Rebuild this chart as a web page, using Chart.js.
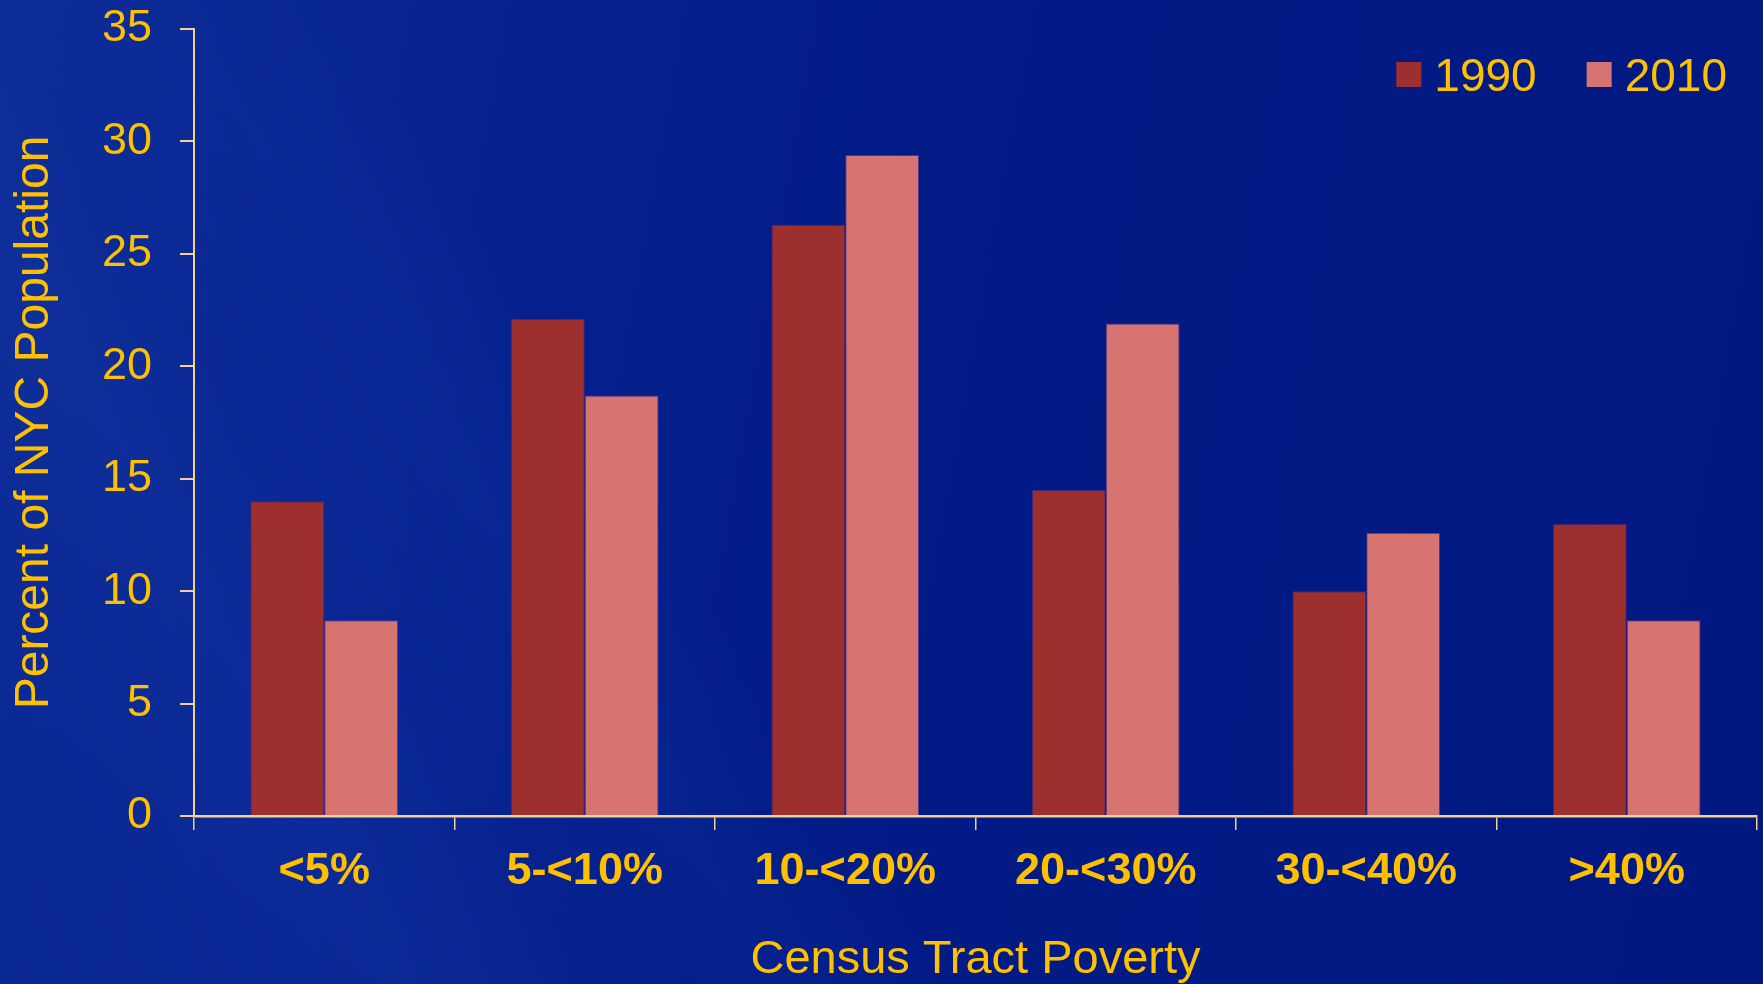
<!DOCTYPE html>
<html>
<head>
<meta charset="utf-8">
<title>Census Tract Poverty</title>
<script src="https://cdn.jsdelivr.net/npm/chart.js@4"></script>
<style>
  html, body { margin: 0; padding: 0; }
  body {
    width: 1763px;
    height: 984px;
    overflow: hidden;
    background:
      linear-gradient(62deg, rgba(40,80,190,0) 0%, rgba(40,80,190,0.18) 18%, rgba(40,80,190,0) 30%),
      linear-gradient(58deg, rgba(30,70,180,0) 25%, rgba(30,70,180,0.14) 33%, rgba(30,70,180,0) 40%),
      linear-gradient(100deg, #0a2892 0%, #072390 22%, #021b86 48%, #011881 100%);
  }
  #wrap { width: 1763px; height: 984px; }
</style>
</head>
<body>
<div id="wrap"><canvas id="povertyChart" width="1763" height="984"></canvas></div>
<script>
// Datos del gráfico
const categories = ['<5%', '5-<10%', '10-<20%', '20-<30%', '30-<40%', '>40%'];
const values1990 = [14.0, 22.1, 26.3, 14.5, 10.0, 13.0];
const values2010 = [8.7, 18.7, 29.4, 21.9, 12.6, 8.7];
const yTicks = [0, 5, 10, 15, 20, 25, 30, 35];

const gold = '#FFC000';
const axisColor = '#F6CF93';

// Leyenda dibujada dentro del área del gráfico (arriba a la derecha)
const insideLegend = {
    id: 'insideLegend',
    afterDraw(chart) {
        const { ctx, chartArea } = chart;
        const box = 25, gap = 13, spacing = 50;
        ctx.save();
        ctx.font = '46px "Liberation Sans", Arial, sans-serif';
        ctx.textBaseline = 'alphabetic';
        ctx.textAlign = 'left';
        const items = chart.data.datasets.map(ds => ({
            label: ds.label, color: ds.backgroundColor, w: ctx.measureText(ds.label).width
        }));
        let total = 0;
        items.forEach((it, i) => { total += box + gap + it.w + (i ? spacing : 0); });
        let x = chartArea.right - 30 - total;
        const baseline = chartArea.top + 62;
        items.forEach(it => {
            ctx.fillStyle = it.color;
            ctx.fillRect(x, baseline - 29, box, box);
            x += box + gap;
            ctx.fillStyle = gold;
            ctx.fillText(it.label, x, baseline);
            x += it.w + spacing;
        });
        ctx.restore();
    }
};

const ctx = document.getElementById('povertyChart').getContext('2d');
const povertyChart = new Chart(ctx, {
    type: 'bar',
    data: {
        labels: categories,
        datasets: [
            {
                label: '1990',
                data: values1990,
                backgroundColor: '#9E2F2F',
                borderColor: 'rgba(110,50,110,0.6)',
                borderWidth: 1
            },
            {
                label: '2010',
                data: values2010,
                backgroundColor: '#D77371',
                borderColor: 'rgba(130,70,130,0.6)',
                borderWidth: 1
            }
        ]
    },
    options: {
        responsive: false,
        animation: false,
        layout: { padding: { left: 0, top: 29, right: 6, bottom: 0 } },
        datasets: {
            bar: { categoryPercentage: 0.567, barPercentage: 1.0 }
        },
        scales: {
            x: {
                grid: {
                    offset: true,
                    drawOnChartArea: false,
                    drawTicks: true,
                    tickLength: 14,
                    color: axisColor,
                    lineWidth: 1.5
                },
                border: { display: true, color: axisColor, width: 2.5 },
                ticks: {
                    color: gold,
                    padding: 15,
                    maxRotation: 0,
                    font: { family: '"Liberation Sans", Arial, sans-serif', size: 45, weight: 'bold' }
                },
                title: {
                    display: true,
                    text: 'Census Tract Poverty',
                    color: gold,
                    padding: { top: 0, bottom: 0 },
                    font: { family: '"Liberation Sans", Arial, sans-serif', size: 47, lineHeight: 1.0 }
                },
                afterFit(scale) { scale.height = 168; }
            },
            y: {
                min: 0,
                max: 35,
                afterBuildTicks(scale) { scale.ticks = yTicks.map(v => ({ value: v })); },
                grid: {
                    drawOnChartArea: false,
                    tickLength: 14,
                    color: axisColor,
                    lineWidth: 2
                },
                border: { display: true, color: axisColor, width: 2 },
                ticks: {
                    color: gold,
                    padding: 28,
                    font: { family: '"Liberation Sans", Arial, sans-serif', size: 45 }
                },
                title: {
                    display: true,
                    text: 'Percent of NYC Population',
                    color: gold,
                    padding: { top: 6, bottom: 0 },
                    font: { family: '"Liberation Sans", Arial, sans-serif', size: 48 }
                },
                afterFit(scale) {
                    scale.width = 194;
                    // el "35" puede sobresalir por arriba
                    scale.paddingTop = 0;
                    scale.paddingBottom = 0;
                }
            }
        },
        plugins: {
            legend: { display: false },
            tooltip: { enabled: false }
        }
    },
    plugins: [insideLegend]
});
</script>
</body>
</html>
